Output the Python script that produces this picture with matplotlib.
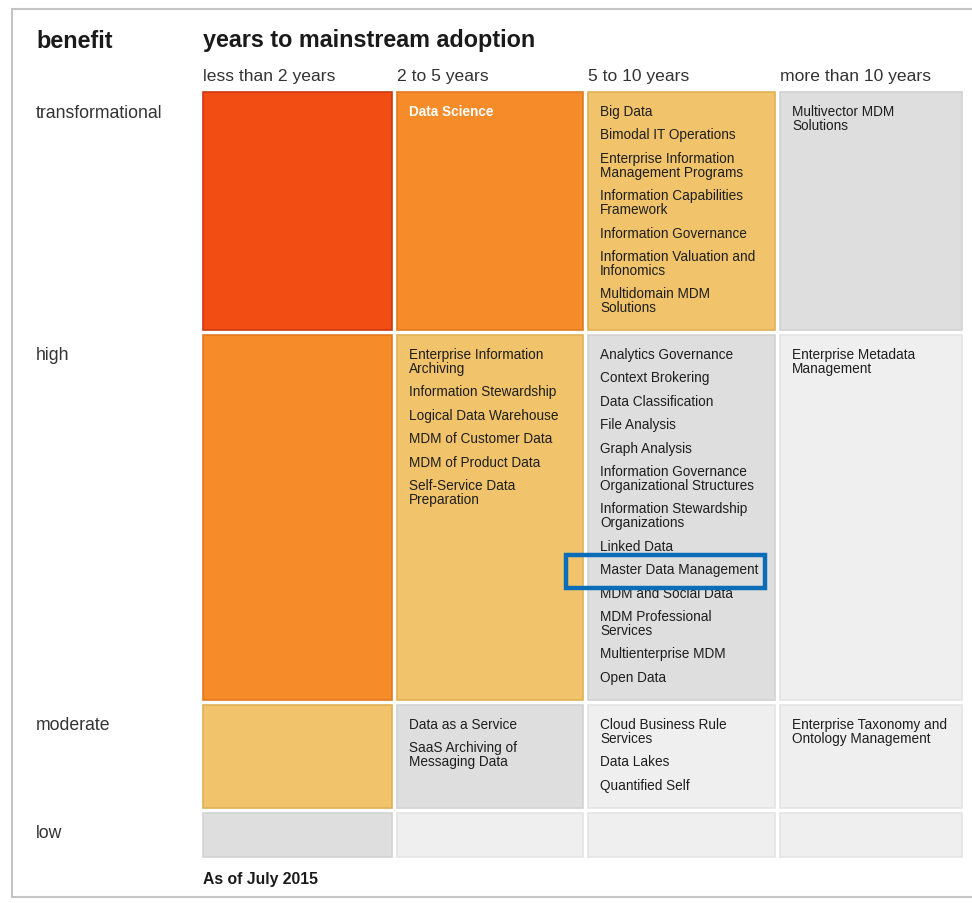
import matplotlib.pyplot as plt
from matplotlib.patches import Rectangle

plt.rcParams['font.family'] = ['Liberation Sans', 'DejaVu Sans']

# chart content
columns = ["less than 2 years", "2 to 5 years", "5 to 10 years", "more than 10 years"]
benefits = ["transformational", "high", "moderate", "low"]

# shade level of each cell (0 = lightest grey ... 4 = red)
shade = [[4, 3, 2, 1],
         [3, 2, 1, 0],
         [2, 1, 0, 0],
         [1, 0, 0, 0]]

transformational_items = [
    [],
    ["Data Science"],
    ["Big Data", "Bimodal IT Operations",
     "Enterprise Information\nManagement Programs",
     "Information Capabilities\nFramework", "Information Governance",
     "Information Valuation and\nInfonomics", "Multidomain MDM\nSolutions"],
    ["Multivector MDM\nSolutions"],
]
high_items = [
    [],
    ["Enterprise Information\nArchiving", "Information Stewardship",
     "Logical Data Warehouse", "MDM of Customer Data", "MDM of Product Data",
     "Self-Service Data\nPreparation"],
    ["Analytics Governance", "Context Brokering", "Data Classification",
     "File Analysis", "Graph Analysis",
     "Information Governance\nOrganizational Structures",
     "Information Stewardship\nOrganizations", "Linked Data",
     "Master Data Management", "MDM and Social Data",
     "MDM Professional\nServices", "Multienterprise MDM", "Open Data"],
    ["Enterprise Metadata\nManagement"],
]
moderate_items = [
    [],
    ["Data as a Service", "SaaS Archiving of\nMessaging Data"],
    ["Cloud Business Rule\nServices", "Data Lakes", "Quantified Self"],
    ["Enterprise Taxonomy and\nOntology Management"],
]
low_items = [[], [], [], []]
highlighted = "Master Data Management"
footnote = "As of July 2015"

# layout (pixels)
col_x = [203, 397, 588, 780]
col_w = [189, 186, 187, 182]
row_y = [93, 336, 706, 814]
row_h = [238, 365, 103, 44]
fills = ["#efefef", "#dedede", "#f1c46c", "#f68b2a", "#f24e14"]
edges = ["#e4e4e4", "#d2d2d2", "#e0b055", "#e27a1e", "#c83a10"]

fig = plt.figure(figsize=(9.72, 9.04), dpi=100)
ax = fig.add_axes([0, 0, 1, 1])
ax.set_xlim(0, 972)
ax.set_ylim(904, 0)
ax.axis('off')

# frame
ax.add_patch(Rectangle((12, 10), 990, 888, facecolor='white', edgecolor='#c4c4c4', lw=1.5))

ax.text(36, 41, "benefit", fontsize=16.8, fontweight='bold', va='center', color='#1a1a1a')
ax.text(203, 41, "years to mainstream adoption", fontsize=16.8, fontweight='bold', va='center', color='#1a1a1a')
for j, c in enumerate(columns):
    ax.text(col_x[j], 76, c, fontsize=12.6, va='center', color='#333333')

all_items = [transformational_items, high_items, moderate_items, low_items]
for i, b in enumerate(benefits):
    ax.text(36, row_y[i] + 20, b, fontsize=12.7, va='center', color='#333333')
    for j in range(4):
        s = shade[i][j]
        ax.add_patch(Rectangle((col_x[j], row_y[i]), col_w[j], row_h[i],
                               facecolor=fills[s], edgecolor=edges[s], lw=1.2))
        y = row_y[i] + 12
        for it in all_items[i][j]:
            white = s >= 3
            ax.text(col_x[j] + 12, y, it, fontsize=9.8, va='top', linespacing=1.0,
                    color='white' if white else '#1e1e1e',
                    fontweight='bold' if white else 'normal')
            if it == highlighted:
                ax.add_patch(Rectangle((col_x[j] - 22, y - 7), 199, 33, fill=False,
                                       edgecolor='#0b6cb8', lw=3.2, zorder=5))
            y += 14 * (it.count("\n") + 1) + 9.4

ax.text(203, 880, footnote, fontsize=11.3, fontweight='bold', va='center', color='#1a1a1a')

fig.savefig("out.png", dpi=100)
